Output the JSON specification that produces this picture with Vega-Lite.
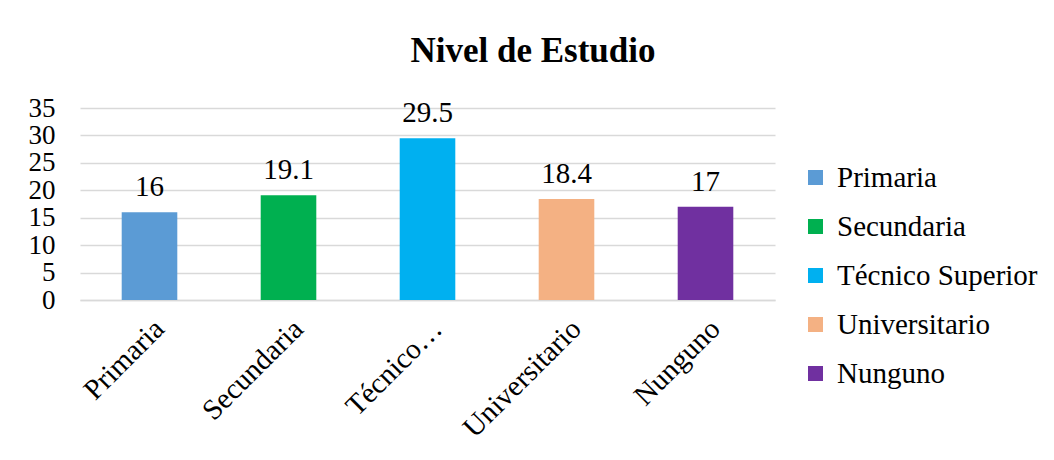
{
  "$schema": "https://vega.github.io/schema/vega-lite/v6.json",
  "width": 695,
  "height": 192,
  "padding": {"left": 28, "top": 34, "right": 5, "bottom": 5},
  "background": "white",
  "title": {
    "text": "Nivel de Estudio",
    "font": "Liberation Serif",
    "fontSize": 35,
    "fontWeight": "bold",
    "color": "#000000",
    "anchor": "middle",
    "frame": "bounds",
    "offset": 25
  },
  "data": {
    "values": [
      {"nivel": "Primaria", "valor": 16, "etiqueta": "16"},
      {"nivel": "Secundaria", "valor": 19.1, "etiqueta": "19.1"},
      {"nivel": "Técnico Superior", "valor": 29.5, "etiqueta": "29.5"},
      {"nivel": "Universitario", "valor": 18.4, "etiqueta": "18.4"},
      {"nivel": "Nunguno", "valor": 17, "etiqueta": "17"}
    ]
  },
  "encoding": {
    "x": {
      "field": "nivel",
      "type": "nominal",
      "sort": null,
      "scale": {"paddingInner": 0.6, "paddingOuter": 0.3},
      "axis": {
        "title": null,
        "labelAngle": -45,
        "labelFont": "Liberation Serif",
        "labelFontSize": 29,
        "labelColor": "#000000",
        "labelPadding": 14,
        "labelDx": -4,
        "ticks": false,
        "domain": true,
        "domainColor": "#d9d9d9",
        "domainWidth": 1.5,
        "labelOverlap": false,
        "labelExpr": "datum.label == 'Técnico Superior' ? 'Técnico…' : datum.label"
      }
    },
    "y": {
      "field": "valor",
      "type": "quantitative",
      "scale": {"domain": [0, 35], "nice": false},
      "axis": {
        "title": null,
        "values": [0, 5, 10, 15, 20, 25, 30, 35],
        "labelFont": "Liberation Serif",
        "labelFontSize": 27,
        "labelColor": "#000000",
        "labelPadding": 25,
        "labelOverlap": false,
        "ticks": false,
        "domain": false,
        "grid": true,
        "gridColor": "#d9d9d9",
        "gridWidth": 1.5
      }
    }
  },
  "layer": [
    {
      "mark": {"type": "bar"},
      "encoding": {
        "color": {
          "field": "nivel",
          "type": "nominal",
          "sort": null,
          "scale": {
            "domain": ["Primaria", "Secundaria", "Técnico Superior", "Universitario", "Nunguno"],
            "range": ["#5B9BD5", "#00B050", "#00B0F0", "#F4B183", "#7030A0"]
          },
          "legend": {
            "title": null,
            "orient": "none",
            "legendX": 721,
            "legendY": 55,
            "symbolType": "square",
            "symbolSize": 225,
            "symbolStrokeWidth": 0,
            "labelFont": "Liberation Serif",
            "labelFontSize": 29,
            "labelColor": "#000000",
            "labelOffset": 7,
            "rowPadding": 19,
            "labelLimit": 300
          }
        }
      }
    },
    {
      "mark": {
        "type": "text",
        "baseline": "bottom",
        "dy": -10,
        "font": "Liberation Serif",
        "fontSize": 29,
        "color": "#000000"
      },
      "encoding": {
        "text": {"field": "etiqueta", "type": "nominal"}
      }
    }
  ],
  "config": {
    "view": {"stroke": null}
  }
}
